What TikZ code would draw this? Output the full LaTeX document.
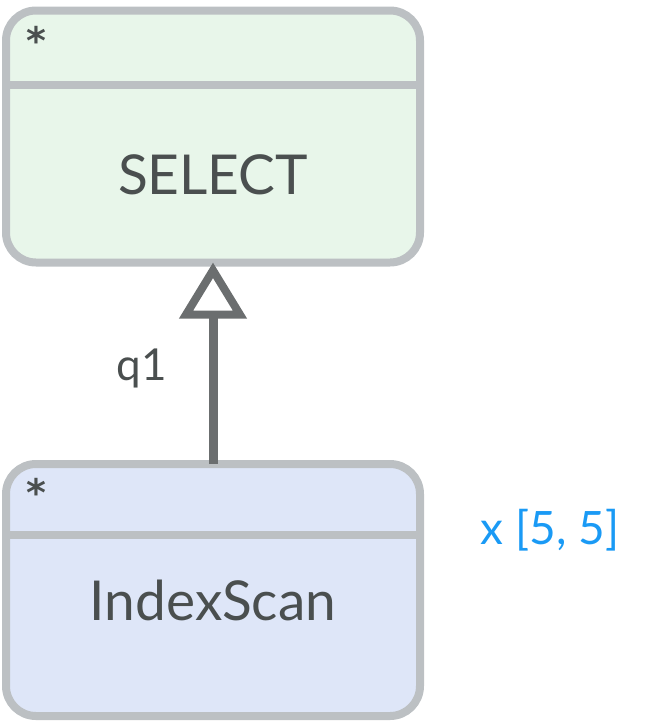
\documentclass[tikz,border=0pt]{standalone}
\usepackage{fontspec}
\setmainfont{Lato}
\newfontfamily\starfont{DejaVu Sans}
\usetikzlibrary{arrows.meta}
\definecolor{topfill}{HTML}{E8F6EA}
\definecolor{botfill}{HTML}{DEE6F8}
\definecolor{bordc}{HTML}{BCC0C3}
\definecolor{txtc}{HTML}{4A4F4F}
\definecolor{arrc}{HTML}{6B6E6F}
\definecolor{bluec}{HTML}{1A9AF5}
\tikzset{
  opbox/.style={draw=bordc, line width=8pt, rounded corners=30pt, minimum width=414pt, minimum height=252pt, inner sep=0pt, outer sep=0pt},
  divline/.style={draw=bordc, line width=8pt},
  star/.style={text=txtc, font=\starfont\bfseries\fontsize{38}{38}\selectfont, inner sep=0pt},
  optitle/.style={text=txtc, font=\fontsize{55}{55}\selectfont, inner sep=0pt},
}
\begin{document}
\begin{tikzpicture}[x=1pt,y=-1pt]
\useasboundingbox (0,0) rectangle (649,724);
\node[opbox, fill=topfill] (top) at (213,136.5) {};
\node[opbox, fill=botfill] (bot) at (213,590) {};
\coordinate (tdl) at (6,85);
\coordinate (tdr) at (420,85);
\coordinate (bdl) at (6,535);
\coordinate (bdr) at (420,535);
\draw[divline] (tdl) -- (tdr);
\draw[divline] (bdl) -- (bdr);
\node[star] (ts) at (36,40) {*};
\node[star] (bs) at (36,492) {*};
\node[optitle] (tt) at (213,175) {SELECT};
\node[optitle] (bt) at (213,600) {IndexScan};
\draw[arrc, line width=9pt, -{Triangle[open, length=56pt, width=66pt, line width=8pt]}] (bot.north) -- (top.south);
\node[text=txtc, font=\fontsize{44}{44}\selectfont, inner sep=0pt] (q) at (142,368) {q1};
\node[text=bluec, font=\fontsize{46}{46}\selectfont, inner sep=0pt] (mult) at (550,530) {x [5, 5]};
\end{tikzpicture}
\end{document}
